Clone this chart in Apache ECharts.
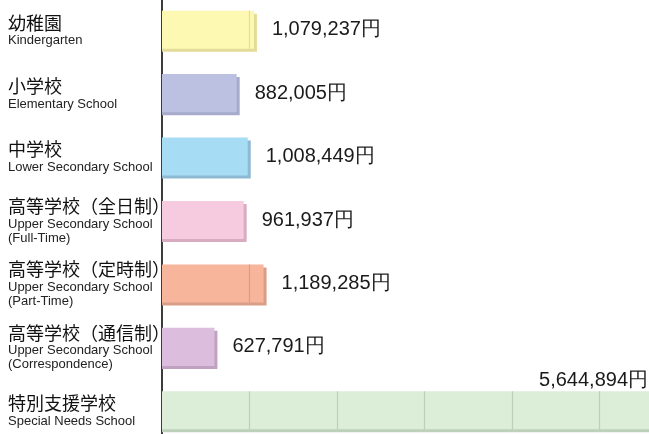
<!DOCTYPE html>
<html>
<head>
<meta charset="utf-8">
<script src="https://cdn.jsdelivr.net/npm/echarts@6/dist/echarts.min.js"></script>
<style>html,body{margin:0;padding:0;background:#fff}#c{width:649px;height:434px}</style>
</head>
<body>
<div id="c"></div>
<script>
// ---- data ----
const catJa = ['幼稚園', '小学校', '中学校', '高等学校（全日制）', '高等学校（定時制）', '高等学校（通信制）', '特別支援学校'];
const catEn = [
  ['Kindergarten'],
  ['Elementary School'],
  ['Lower Secondary School'],
  ['Upper Secondary School', '(Full-Time)'],
  ['Upper Secondary School', '(Part-Time)'],
  ['Upper Secondary School', '(Correspondence)'],
  ['Special Needs School']
];
const values = [1079237, 882005, 1008449, 961937, 1189285, 627791, 5644894];
const unit = '円';
const gridStep = 1000000;

// ---- styles ----
const faceColors = ['#fdf8b2', '#bdc1e1', '#a7dcf5', '#f6cadf', '#f7b59b', '#dcbddd', '#dcedd8'];
const shadeColors = ['#e3dc98', '#a6aacb', '#8db9d2', '#d9abc0', '#d99e87', '#bfa2c0', '#bdd0b9'];

const chart = echarts.init(document.getElementById('c'), null, {renderer: 'canvas'});

function fmt(v) { return v.toLocaleString('en-US') + unit; }

chart.setOption({
  animation: false,
  grid: {left: 162, right: 0, top: -2, height: 444, containLabel: false, outerBoundsMode: 'none'},
  xAxis: {type: 'value', min: 0, max: 5566000, show: false},
  yAxis: {
    type: 'category',
    inverse: true,
    data: catJa,
    axisLine: {show: true, lineStyle: {color: '#3c3c3c', width: 2}},
    axisTick: {show: false},
    splitLine: {show: false},
    axisLabel: {
      align: 'left',
      margin: 154,
      formatter: function (val, idx) {
        return '{jp|' + catJa[idx] + '}\n' + catEn[idx].map(function (s) { return '{en|' + s + '}'; }).join('\n');
      },
      rich: {
        jp: {fontSize: 18, lineHeight: 22, fontFamily: "'Noto Sans CJK JP', sans-serif", color: '#111'},
        en: {fontSize: 13, lineHeight: 14, fontFamily: "'Liberation Sans Narrow', 'Arial Narrow', 'Liberation Sans', sans-serif", color: '#222'}
      }
    }
  },
  series: [{
    type: 'custom',
    clip: true,
    data: values.map(function (v, i) { return [v, i]; }),
    encode: {x: 0, y: 1},
    renderItem: function (params, api) {
      const v = api.value(0), i = api.value(1);
      const s = api.coord([0, i]);
      const e = api.coord([v, i]);
      const band = api.size([0, 1])[1];
      const h = band * 0.6;
      const top = s[1] - h / 2;
      const w = e[0] - s[0] - 2.5;
      const cs = params.coordSys;
      const children = [];
      children.push({type: 'rect', shape: {x: s[0], y: top + 3, width: w + 3, height: h}, style: {fill: shadeColors[i]}});
      children.push({type: 'rect', shape: {x: s[0], y: top, width: w, height: h}, style: {fill: faceColors[i]}});
      for (let t = gridStep; t < v; t += gridStep) {
        const px = Math.round(api.coord([t, i])[0]) + 0.5;
        if (px < s[0] + w - 1) {
          children.push({type: 'line', shape: {x1: px, y1: top, x2: px, y2: top + h}, style: {stroke: shadeColors[i], lineWidth: 1.2}});
        }
      }
      const outside = e[0] > cs.x + cs.width;
      children.push({
        type: 'text',
        style: outside ? {
          text: fmt(v), x: cs.x + cs.width - 1, y: top - 1, align: 'right', verticalAlign: 'bottom',
          fontSize: 20, fontFamily: "'Liberation Sans', Arial, sans-serif", fill: '#1a1a1a'
        } : {
          text: fmt(v), x: e[0] + 15.5, y: s[1], align: 'left', verticalAlign: 'middle',
          fontSize: 20, fontFamily: "'Liberation Sans', Arial, sans-serif", fill: '#1a1a1a'
        }
      });
      return {type: 'group', children: children};
    }
  }]
});
</script>
</body>
</html>
